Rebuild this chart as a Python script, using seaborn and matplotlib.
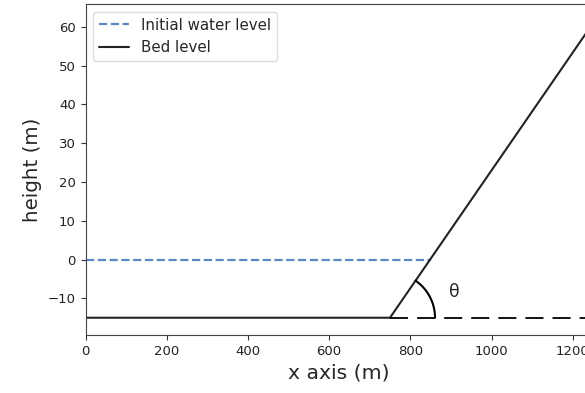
import numpy as np
import pandas as pd
import matplotlib
matplotlib.use("Agg")
import matplotlib.pyplot as plt
import seaborn as sns

# Bed profile: flat bottom then a uniform slope
bed_x = [0, 750, 1300]
bed_y = [-15, -15, 68.5]

# Initial still-water level, reaching the slope
water_x = [0, 850]
water_y = [0, 0]

x_ticks = [0, 200, 400, 600, 800, 1000, 1200]
y_ticks = [-10, 0, 10, 20, 30, 40, 50, 60]
x_limits = (0, 1250)
y_limits = (-19.45, 65.85)

sns.set_style("ticks")
plt.rcParams["font.family"] = ["DejaVu Sans"]

fig = plt.figure(figsize=(5.85, 3.93), dpi=100)
ax = fig.add_axes([85.5 / 585, 58 / 393, 507.5 / 585, 331 / 393])

bed = pd.DataFrame({"x": bed_x, "y": bed_y})
water = pd.DataFrame({"x": water_x, "y": water_y})

sns.lineplot(data=water, x="x", y="y", ax=ax, color="#5a8ac6", lw=1.6,
             linestyle="--", label="Initial water level", sort=False)
sns.lineplot(data=bed, x="x", y="y", ax=ax, color="#222222", lw=1.5,
             label="Bed level", sort=False)

ax.set_xlim(*x_limits)
ax.set_ylim(*y_limits)
ax.set_xticks(x_ticks)
ax.set_yticks(y_ticks)

# Reference horizontal from the toe of the slope
toe_x, toe_y = bed_x[1], bed_y[1]
ax.plot([toe_x, x_limits[1]], [toe_y, toe_y], color="black", lw=1.3,
        dashes=(10, 5))

# Slope angle arc, drawn round in screen space
fig.canvas.draw()
bbox = ax.get_window_extent()
sx = bbox.width / (x_limits[1] - x_limits[0])
sy = bbox.height / (y_limits[1] - y_limits[0])
slope = (bed_y[2] - bed_y[1]) / (bed_x[2] - bed_x[1])
theta = np.arctan(slope * sy / sx)
t = np.linspace(0, theta, 60)
r_px = 45
ax.plot(toe_x + r_px * np.cos(t) / sx, toe_y + r_px * np.sin(t) / sy,
        color="black", lw=1.5)
ax.text(toe_x + 64 / sx, toe_y + 26 / sy, "θ", fontsize=12.5,
        ha="center", va="center")

ax.set_xlabel("x axis (m)", fontsize=14.7)
ax.set_ylabel("height (m)", fontsize=14.3)
ax.tick_params(labelsize=9.5, colors="#333333", labelcolor="#222222")
for side in ["left", "bottom", "top"]:
    ax.spines[side].set_color("#444444")
    ax.spines[side].set_visible(True)
ax.spines["right"].set_visible(False)

ax.legend(loc="upper left", fontsize=10.8, frameon=True, framealpha=1,
          edgecolor="#dddddd", handlelength=2.0)

fig.savefig("out.png", dpi=100)
